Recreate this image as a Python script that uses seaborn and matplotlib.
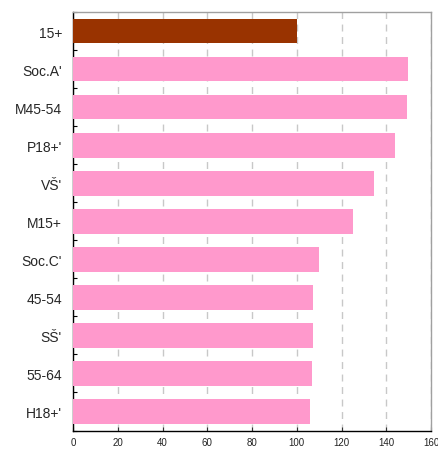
import matplotlib
matplotlib.use("Agg")
import matplotlib.pyplot as plt
import seaborn as sns
import pandas as pd
import numpy as np
from matplotlib.ticker import FixedLocator

categories = ["15+", "Soc.A'", "M45-54", "P18+'", "VŠ'", "M15+", "Soc.C'", "45-54", "SŠ'", "55-64", "H18+'"]
values = [100, 149.6, 149.1, 143.8, 134.5, 125.1, 109.9, 107.3, 107.1, 106.7, 105.8]
colors = ["#993300"] + ["#FF99CC"] * 10
x_ticks = [0, 20, 40, 60, 80, 100, 120, 140, 160]

sns.set_style("white")
plt.rcParams['font.family'] = ['Liberation Sans', 'DejaVu Sans']
plt.rcParams['ytick.direction'] = 'in'
plt.rcParams['xtick.direction'] = 'in'

df = pd.DataFrame({"cat": categories, "val": values})

fig = plt.figure(figsize=(4.39, 4.52), dpi=100)
ax = fig.add_axes([73/439, 20.5/452, 358/439, 418.5/452])

sns.barplot(data=df, x="val", y="cat", hue="cat", palette=colors, legend=False,
            orient="h", width=0.65, saturation=1, ax=ax, zorder=3,
            linewidth=0, edgecolor="none")

ax.set_xlim(0, 160)
ax.set_ylim(len(categories) - 0.5, -0.5)
ax.set_xticks(x_ticks)
ax.set_xticklabels([str(t) for t in x_ticks], fontsize=7, color="#222222")
ax.set_xlabel("")
ax.set_ylabel("")
ax.tick_params(axis="y", which="major", labelsize=10, length=0, pad=8)
ax.yaxis.set_minor_locator(FixedLocator(np.arange(-0.5, len(categories), 1.0)))
ax.tick_params(axis="y", which="minor", direction="in", length=3, width=0.8,
               color="black", left=True, right=False)
ax.tick_params(axis="x", which="major", direction="in", length=3, width=0.8,
               color="#333333", bottom=True, pad=5)

ax.grid(axis="x", color="#c8c8c8", linestyle=(0, (5, 4)), linewidth=1.0, zorder=0)
ax.set_axisbelow(True)

for s in ["left", "bottom"]:
    ax.spines[s].set_color("black")
    ax.spines[s].set_linewidth(1.0)
for s in ["top", "right"]:
    ax.spines[s].set_color("#a0a0a0")
    ax.spines[s].set_linewidth(1.0)
    ax.spines[s].set_visible(True)

fig.savefig("out.png", dpi=100)
